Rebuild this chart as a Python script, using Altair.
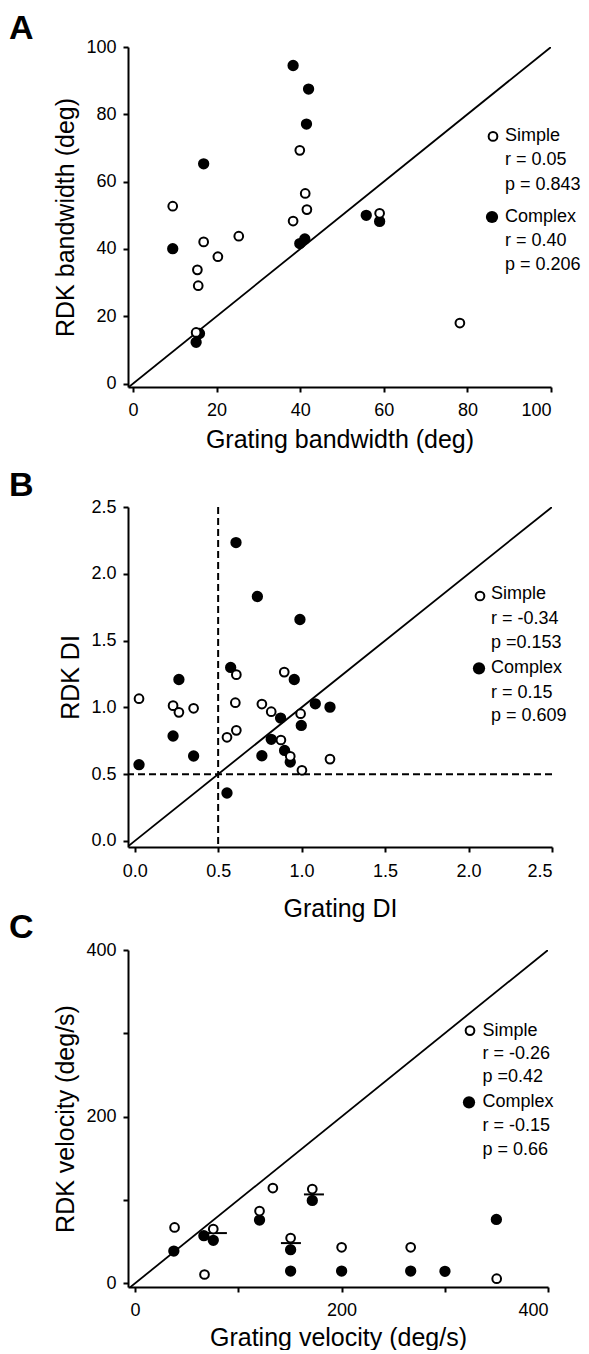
import altair as alt
import pandas as pd

FONT = "Liberation Sans"

# ---------------- Panel A: bandwidth ----------------
a_simple_x = [39.9, 41.2, 41.6, 38.3, 9.5, 16.9, 25.3, 20.3, 15.4, 15.6, 15.1, 59.0, 78.2]
a_simple_y = [69.3, 56.5, 51.7, 48.3, 52.7, 42.1, 43.8, 37.7, 33.8, 29.1, 15.2, 50.6, 18.0]
a_complex_x = [38.3, 42.0, 41.5, 16.9, 9.5, 39.9, 41.1, 55.8, 59.0, 15.9, 15.1]
a_complex_y = [94.5, 87.5, 77.1, 65.3, 40.1, 41.6, 43.0, 50.0, 48.2, 14.9, 12.3]
a_ticks = [0, 20, 40, 60, 80, 100]
a_legend = ["Simple", "r = 0.05", "p = 0.843", "Complex", "r = 0.40", "p = 0.206"]

# ---------------- Panel B: direction index ----------------
b_simple_x = [0.026, 0.230, 0.265, 0.353, 0.609, 0.896, 0.603, 0.762, 0.818, 0.994,
              0.553, 0.609, 0.876, 0.932, 1.002, 1.170]
b_simple_y = [1.065, 1.013, 0.963, 0.993, 1.245, 1.264, 1.035, 1.025, 0.968, 0.953,
              0.776, 0.828, 0.756, 0.634, 0.529, 0.613]
b_complex_x = [0.607, 0.735, 0.990, 0.575, 0.265, 0.956, 1.082, 1.170, 0.874, 0.998,
               0.230, 0.818, 0.353, 0.762, 0.898, 0.932, 0.026, 0.553]
b_complex_y = [2.234, 1.830, 1.658, 1.299, 1.209, 1.209, 1.027, 1.002, 0.920, 0.865,
               0.786, 0.761, 0.636, 0.638, 0.678, 0.591, 0.571, 0.359]
b_ticks = [0.0, 0.5, 1.0, 1.5, 2.0, 2.5]
b_criterion = [0.5]
b_legend = ["Simple", "r = -0.34", "p =0.153", "Complex", "r = 0.15", "p = 0.609"]

# ---------------- Panel C: velocity ----------------
c_simple_x = [38.3, 67.3, 75.8, 120.6, 133.5, 171.7, 150.7, 200.1, 267.0, 350.3]
c_simple_y = [67.1, 10.6, 65.1, 86.7, 114.3, 113.1, 54.3, 43.2, 43.2, 5.6]
c_complex_x = [37.6, 66.7, 75.8, 120.6, 171.7, 150.7, 150.7, 200.1, 267.0, 300.2, 350.0]
c_complex_y = [38.7, 57.2, 51.6, 75.9, 99.5, 40.4, 14.7, 14.7, 14.7, 14.4, 76.7]
c_dash_x = [79.3, 151.0, 173.3]
c_dash_y = [60.3, 48.3, 106.7]
c_ticks = [0, 100, 200, 300, 400]
c_legend = ["Simple", "r = -0.26", "p =0.42", "Complex", "r = -0.15", "p = 0.66"]


def one_row():
    return pd.DataFrame({"k": [0]})


def make_panel(sx, sy, cx, cy, xdom, ydom, w, h, ticks, fmt, label_expr,
               xtitle, ytitle, letter, letter_y, legend, leg_sym_x, leg_text_x,
               leg_ys, leg_open_y, leg_fill_y, x_label_pad, x_title_pad, extra=None):
    xs = alt.Scale(domain=xdom, nice=False, zero=False)
    ys = alt.Scale(domain=ydom, nice=False, zero=False)
    xax = alt.Axis(values=ticks, format=fmt, title=xtitle, labelExpr=label_expr,
                   labelPadding=x_label_pad, titlePadding=x_title_pad)
    yax = alt.Axis(values=ticks, format=fmt, title=ytitle, labelExpr=label_expr)

    diag = pd.DataFrame({"x": [xdom[0], ticks[-1]], "y": [xdom[0], ticks[-1]]})
    diag_layer = alt.Chart(diag).mark_line(color="black", strokeWidth=1.8, clip=True).encode(
        x=alt.X("x:Q", scale=xs, axis=xax), y=alt.Y("y:Q", scale=ys, axis=yax))

    comp = pd.DataFrame({"x": cx, "y": cy})
    comp_layer = alt.Chart(comp).mark_point(shape="circle", filled=True, color="black",
                                            size=128, opacity=1).encode(
        x=alt.X("x:Q", scale=xs), y=alt.Y("y:Q", scale=ys))
    simp = pd.DataFrame({"x": sx, "y": sy})
    simp_layer = alt.Chart(simp).mark_point(shape="circle", filled=True, fill="white",
                                            stroke="black", strokeWidth=2, size=76,
                                            opacity=1).encode(
        x=alt.X("x:Q", scale=xs), y=alt.Y("y:Q", scale=ys))

    layers = [diag_layer]
    if extra is not None:
        layers += extra(xs, ys)
    layers += [comp_layer, simp_layer]

    # legend (custom: symbol + label + statistics)
    layers.append(alt.Chart(one_row()).mark_point(shape="circle", filled=True, fill="white",
                                                  stroke="black", strokeWidth=2, size=76,
                                                  opacity=1).encode(
        x=alt.value(leg_sym_x), y=alt.value(leg_open_y)))
    layers.append(alt.Chart(one_row()).mark_point(shape="circle", filled=True, color="black",
                                                  size=150, opacity=1).encode(
        x=alt.value(leg_sym_x - 1), y=alt.value(leg_fill_y)))
    for txt, yy in zip(legend, leg_ys):
        layers.append(alt.Chart(one_row()).mark_text(
            text=txt, align="left", baseline="middle", font=FONT, fontSize=18,
            color="black").encode(x=alt.value(leg_text_x), y=alt.value(yy)))

    layers.append(alt.Chart(one_row()).mark_text(
        text=letter, align="left", baseline="alphabetic", font=FONT, fontSize=34,
        fontWeight="bold", color="black").encode(x=alt.value(-119), y=alt.value(letter_y)))

    return alt.layer(*layers).properties(width=w, height=h)


def b_extra(xs, ys):
    v = alt.Chart(pd.DataFrame({"x": b_criterion})).mark_rule(
        color="black", strokeWidth=2, strokeDash=[7, 4]).encode(x=alt.X("x:Q", scale=xs))
    hz = alt.Chart(pd.DataFrame({"y": b_criterion})).mark_rule(
        color="black", strokeWidth=2, strokeDash=[7, 4]).encode(y=alt.Y("y:Q", scale=ys))
    return [v, hz]


def c_extra(xs, ys):
    d = alt.Chart(pd.DataFrame({"x": c_dash_x, "y": c_dash_y})).mark_tick(
        orient="horizontal", color="black", thickness=2, size=20, opacity=1).encode(
        x=alt.X("x:Q", scale=xs), y=alt.Y("y:Q", scale=ys))
    return [d]


panel_a = make_panel(a_simple_x, a_simple_y, a_complex_x, a_complex_y,
                     [-1.2, 100], [-1.0, 100], 423, 340, a_ticks, "d", "datum.label",
                     "Grating bandwidth (deg)", "RDK bandwidth (deg)", "A", -8,
                     a_legend, 365, 377, [89, 113, 137.5, 169.5, 193.5, 217.5], 89.4, 170,
                     9, 8.5)
panel_b = make_panel(b_simple_x, b_simple_y, b_complex_x, b_complex_y,
                     [-0.04, 2.5], [-0.045, 2.5], 424, 340, b_ticks, ".1f", "datum.label",
                     "Grating DI", "RDK DI", "B", -11,
                     b_legend, 352, 363, [87.3, 112.3, 135.7, 160.7, 185.7, 209], 89, 161.3,
                     10, 16.5, extra=b_extra)
panel_c = make_panel(c_simple_x, c_simple_y, c_complex_x, c_complex_y,
                     [-6.8, 400], [-4.4, 400], 420, 337, c_ticks, "d",
                     "datum.value % 200 == 0 ? datum.label : ''",
                     "Grating velocity (deg/s)", "RDK velocity (deg/s)", "C", -12,
                     c_legend, 342, 354.5, [80.6, 103.9, 127.3, 152.3, 175.6, 199.9], 80.6, 152.3,
                     9, 6, extra=c_extra)

chart = alt.vconcat(alt.vconcat(panel_a, panel_b, spacing=16), panel_c, spacing=-11).properties(
    padding={"left": 1, "top": 4, "right": 0, "bottom": 0}
).configure_view(stroke=None).configure_axis(
    grid=False, domainColor="black", domainWidth=2, tickColor="black", tickWidth=2,
    tickSize=5, labelColor="black", labelFont=FONT, labelFontSize=18, labelPadding=7,
    titleFont=FONT, titleFontSize=25, titleFontWeight="normal", titleColor="black",
    titlePadding=7
)

chart.save("out.html", embed_options={"renderer": "svg", "actions": False})
